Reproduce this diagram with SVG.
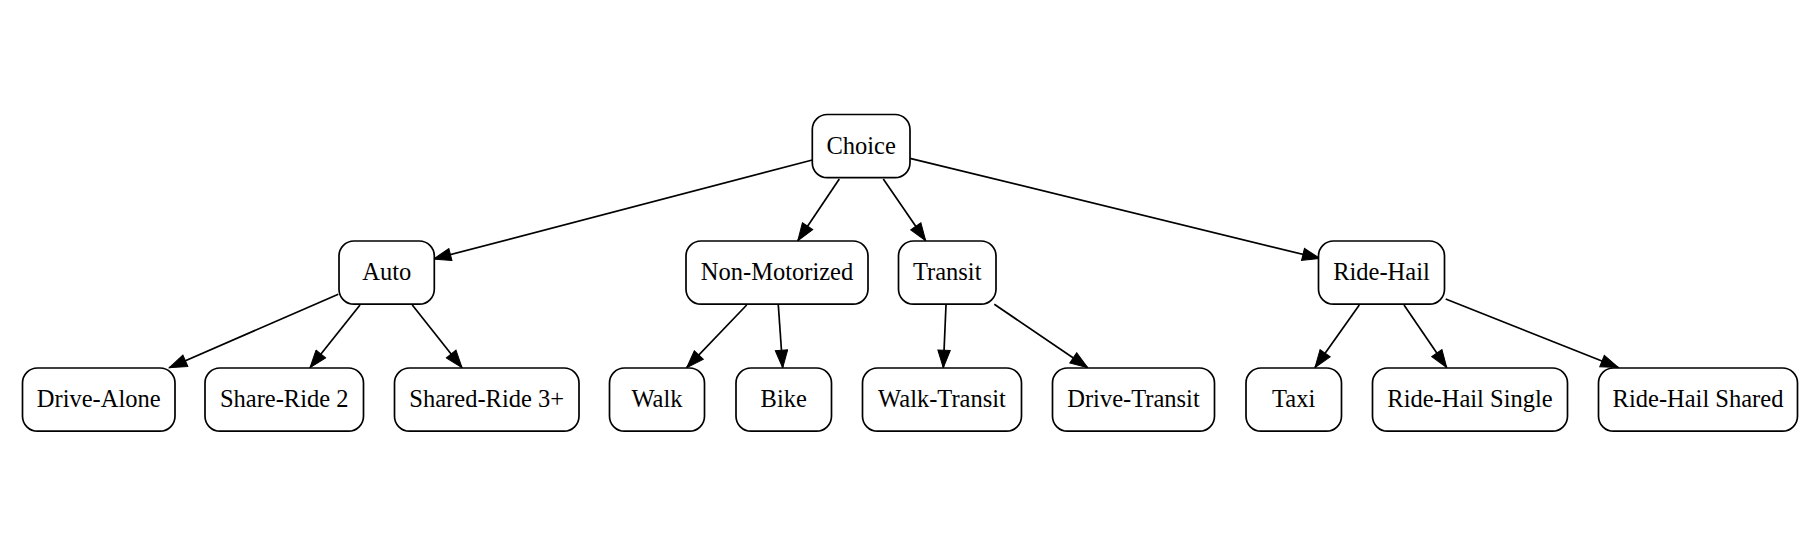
<svg xmlns="http://www.w3.org/2000/svg" width="1818" height="544" viewBox="0 0 1818 544">
<defs>
<style>
.node rect{fill:#fff;stroke:#000;stroke-width:1.7}
.node text{font-family:'Liberation Serif','Times New Roman',Times,'DejaVu Serif',serif;font-size:24.5px;text-anchor:middle;fill:#000}
.edges line{stroke:#000;stroke-width:1.7}
</style>
<marker id="arr" markerUnits="userSpaceOnUse" markerWidth="20" markerHeight="14" viewBox="0 -7 18 14" refX="17.5" refY="0" orient="auto">
<path d="M0,-6.2 L17.5,0 L0,6.2 z" fill="#000" stroke="#000" stroke-width="1"/>
</marker>
</defs>
<rect width="1818" height="544" fill="#fff"/>
<g class="edges">
<line x1="812.3" y1="160" x2="433.5" y2="259" marker-end="url(#arr)"/>
<line x1="839.3" y1="179" x2="797.8" y2="240.7" marker-end="url(#arr)"/>
<line x1="883.3" y1="179" x2="925.7" y2="240.7" marker-end="url(#arr)"/>
<line x1="910" y1="158.3" x2="1320" y2="258.5" marker-end="url(#arr)"/>
<line x1="338.3" y1="294.3" x2="169.3" y2="367.7" marker-end="url(#arr)"/>
<line x1="360" y1="305" x2="310" y2="367.7" marker-end="url(#arr)"/>
<line x1="412.3" y1="305" x2="462" y2="367.7" marker-end="url(#arr)"/>
<line x1="746.7" y1="305" x2="686.7" y2="367.7" marker-end="url(#arr)"/>
<line x1="778.3" y1="305" x2="782.7" y2="367.7" marker-end="url(#arr)"/>
<line x1="946" y1="305" x2="943.3" y2="367.7" marker-end="url(#arr)"/>
<line x1="994.3" y1="304.3" x2="1087.7" y2="367.7" marker-end="url(#arr)"/>
<line x1="1359.3" y1="305" x2="1315" y2="367.5" marker-end="url(#arr)"/>
<line x1="1404" y1="305" x2="1446.7" y2="367.5" marker-end="url(#arr)"/>
<line x1="1445.7" y1="299" x2="1618.3" y2="367.5" marker-end="url(#arr)"/>
</g>
<g id="node-choice" class="node"><rect x="812.3" y="114.5" width="97.7" height="63.2" rx="15"/><text x="861.1" y="153.6" font-family="Liberation Serif, serif">Choice</text></g>
<g id="node-auto" class="node"><rect x="339" y="241" width="95.3" height="63.2" rx="15"/><text x="386.7" y="280.1">Auto</text></g>
<g id="node-nonmotorized" class="node"><rect x="686" y="241" width="182" height="63.2" rx="15"/><text x="777" y="280.1">Non-Motorized</text></g>
<g id="node-transit" class="node"><rect x="898.5" y="241" width="97.5" height="63.2" rx="15"/><text x="947.2" y="280.1">Transit</text></g>
<g id="node-ridehail" class="node"><rect x="1318.5" y="241" width="126" height="63.2" rx="15"/><text x="1381.5" y="280.1">Ride-Hail</text></g>
<g id="node-drivealone" class="node"><rect x="22.5" y="368" width="152.5" height="63.2" rx="15"/><text x="98.7" y="407">Drive-Alone</text></g>
<g id="node-shareride2" class="node"><rect x="205" y="368" width="158.5" height="63.2" rx="15"/><text x="284.2" y="407">Share-Ride 2</text></g>
<g id="node-sharedride3" class="node"><rect x="394.5" y="368" width="184.5" height="63.2" rx="15"/><text x="486.7" y="407">Shared-Ride 3+</text></g>
<g id="node-walk" class="node"><rect x="609.5" y="368" width="95" height="63.2" rx="15"/><text x="657" y="407">Walk</text></g>
<g id="node-bike" class="node"><rect x="736" y="368" width="95.5" height="63.2" rx="15"/><text x="783.7" y="407">Bike</text></g>
<g id="node-walktransit" class="node"><rect x="862.5" y="368" width="159" height="63.2" rx="15"/><text x="942" y="407">Walk-Transit</text></g>
<g id="node-drivetransit" class="node"><rect x="1052.5" y="368" width="162" height="63.2" rx="15"/><text x="1133.5" y="407">Drive-Transit</text></g>
<g id="node-taxi" class="node"><rect x="1246" y="368" width="95.5" height="63.2" rx="15"/><text x="1293.7" y="407">Taxi</text></g>
<g id="node-ridehailsingle" class="node"><rect x="1372.5" y="368" width="195" height="63.2" rx="15"/><text x="1470" y="407">Ride-Hail Single</text></g>
<g id="node-ridehailshared" class="node"><rect x="1598.5" y="368" width="199" height="63.2" rx="15"/><text x="1698" y="407">Ride-Hail Shared</text></g>
</svg>
